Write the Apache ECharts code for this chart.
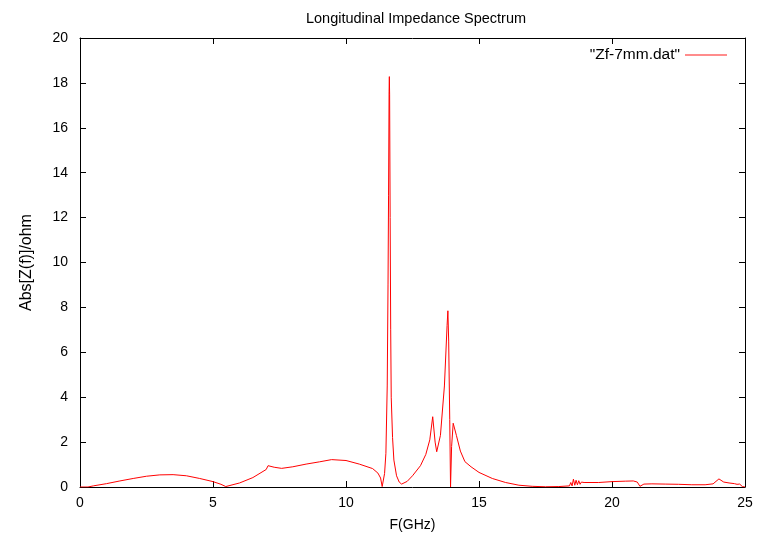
<!DOCTYPE html>
<html><head><meta charset="utf-8">
<script src="https://cdn.jsdelivr.net/npm/echarts@6/dist/echarts.min.js"></script>
<style>html,body{margin:0;padding:0;background:#fff}#c{width:763px;height:533px}</style>
</head><body><div id="c"></div>
<script>
const freqGHz = [0,0.3,0.5,1,1.5,2,2.5,3,3.5,4,4.5,5,5.3,5.48,6,6.5,7,7.07,7.3,7.58,8,8.5,9,9.46,10,10.5,11,11.2,11.3,11.36,11.45,11.5,11.55,11.58,11.6,11.62,11.63,11.64,11.66,11.68,11.7,11.75,11.8,11.9,12,12.09,12.3,12.5,12.8,13,13.15,13.26,13.35,13.41,13.55,13.7,13.8,13.83,13.86,13.9,13.93,13.97,14.03,14.15,14.3,14.47,14.7,15,15.5,16,16.5,17,17.5,18,18.4,18.45,18.5,18.55,18.6,18.65,18.7,18.75,18.8,18.85,18.9,18.95,19,19.5,20,20.5,20.8,20.95,21.05,21.2,21.5,22,22.5,23,23.5,23.8,24.02,24.2,24.4,24.6,24.7,24.75,24.8,24.9,25];
const absZ = [0,0,0.05,0.15,0.27,0.38,0.48,0.54,0.55,0.5,0.38,0.24,0.12,0.02,0.18,0.42,0.78,0.95,0.88,0.83,0.9,1.02,1.12,1.22,1.18,1.02,0.82,0.62,0.4,0.02,0.6,1.5,4.5,9,13,17.6,18.28,17.5,12,7,4,2.2,1.2,0.5,0.22,0.13,0.25,0.5,0.95,1.45,2.1,3.13,2.0,1.57,2.3,4.5,7.2,7.85,6.5,3,0,1.8,2.84,2.3,1.6,1.13,0.9,0.65,0.38,0.2,0.08,0.03,0.01,0.02,0.05,0.2,0.05,0.35,0.08,0.3,0.1,0.28,0.12,0.22,0.15,0.2,0.16,0.2,0.24,0.26,0.27,0.22,0.03,0.13,0.14,0.13,0.12,0.1,0.1,0.14,0.36,0.22,0.18,0.15,0.12,0.16,0.13,0.02,0];
const xTicks = [0,5,10,15,20,25];
const yTicks = [0,2,4,6,8,10,12,14,16,18,20];
const seriesName = '"Zf-7mm.dat"';

const pts = freqGHz.map((f,i)=>[f,absZ[i]]);
const font = 'Liberation Sans, Arial, sans-serif';
const axisLine = {show:true, onZero:false, lineStyle:{color:'#000', width:1}};
const tick = {show:true, inside:true, length:6, lineStyle:{color:'#000'}};
const chart = echarts.init(document.getElementById('c'), null, {renderer:'canvas'});
chart.setOption({
  animation:false,
  backgroundColor:'#fff',
  title:{text:'Longitudinal Impedance Spectrum', left:411, top:6, textAlign:'center',
    textStyle:{fontFamily:font, fontSize:14.5, fontWeight:'normal', color:'#000'}},
  legend:{data:[seriesName], right:31, top:42, align:'right', itemWidth:42, itemHeight:2, icon:'rect',
    itemGap:8, itemStyle:{color:'#ff8c8c'},
    textStyle:{fontFamily:font, fontSize:15.5, color:'#000', padding:[0,0,0,0]}},
  grid:{left:80, right:18, top:38, bottom:46, containLabel:false, outerBoundsMode:'none'},
  xAxis:[{type:'value', min:xTicks[0], max:xTicks[xTicks.length-1], interval:5, position:'bottom',
      name:'F(GHz)', nameLocation:'middle', nameGap:31,
      nameTextStyle:{fontFamily:font, fontSize:14, color:'#000'},
      axisLine, axisTick:tick, splitLine:{show:false},
      axisLabel:{fontFamily:font, fontSize:14, color:'#000', margin:9}},
    {type:'value', min:xTicks[0], max:xTicks[xTicks.length-1], interval:5, position:'top', axisLine, axisTick:tick,
      axisLabel:{show:false}, splitLine:{show:false}}],
  yAxis:[{type:'value', min:yTicks[0], max:yTicks[yTicks.length-1], interval:2, position:'left',
      name:'Abs[Z(f)]/ohm', nameLocation:'middle', nameGap:45, nameRotate:90,
      nameTextStyle:{fontFamily:font, fontSize:16, color:'#000'},
      axisLine, axisTick:tick, splitLine:{show:false},
      axisLabel:{fontFamily:font, fontSize:14, color:'#000', margin:12}},
    {type:'value', min:yTicks[0], max:yTicks[yTicks.length-1], interval:2, position:'right', axisLine, axisTick:tick,
      axisLabel:{show:false}, splitLine:{show:false}}],
  series:[{name:seriesName, type:'line', data:pts, showSymbol:false, symbol:'none',
    lineStyle:{color:'#ff0000', width:1}, itemStyle:{color:'#ff0000'}}]
});
</script></body></html>
